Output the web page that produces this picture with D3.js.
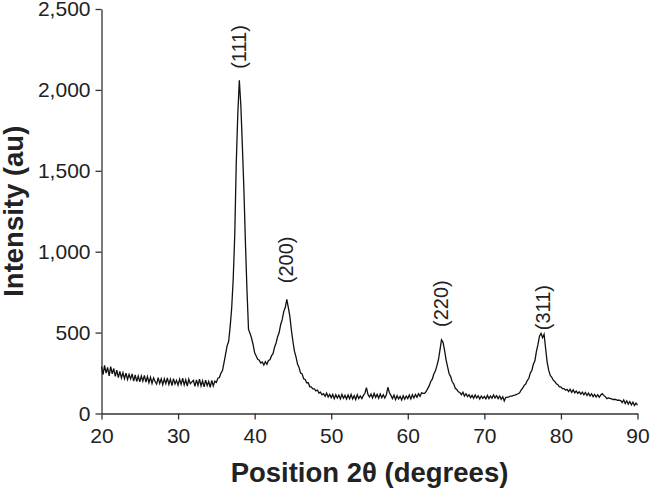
<!DOCTYPE html>
<html>
<head>
<meta charset="utf-8">
<script src="https://cdn.jsdelivr.net/npm/d3@7"></script>
<style>
    body { margin: 0; background: #fff; }
    #chart { width: 650px; height: 488px; }
    .tick text { font-family: Arial, "Liberation Sans", sans-serif; font-size: 21px; fill: #222; }
    .axis-title { font-family: Arial, "Liberation Sans", sans-serif; font-size: 27.5px; font-weight: bold; fill: #222; }
    .peak-label { font-family: Arial, "Liberation Sans", sans-serif; font-size: 20px; fill: #222; }
</style>
</head>
<body>
<div id="chart"></div>
<script>

// scan range of the diffractometer, 0.2 degree steps
const scanStart = 20;
const scanStep = 0.2;

// intensities (au), one row per degree (x.0, x.2, x.4, x.6, x.8)
const intensity = [
    290, 240, 298, 250, 285,   // 20
    232, 290, 245, 278, 230,   // 21
    268, 222, 260, 220, 252,   // 22
    215, 250, 210, 242, 214,   // 23
    245, 200, 238, 198, 232,   // 24
    195, 232, 200, 236, 194,   // 25
    228, 190, 224, 186, 220,   // 26
    198, 182, 222, 186, 215,   // 27
    178, 214, 184, 220, 180,   // 28
    212, 172, 216, 182, 205,   // 29
    175, 212, 180, 218, 176,   // 30
    208, 170, 212, 184, 195,   // 31
    205, 168, 208, 174, 212,   // 32
    170, 202, 165, 206, 172,   // 33
    198, 162, 205, 170, 200,   // 34
    192, 218, 222, 250, 265,   // 35
    315, 365, 418, 445, 535,   // 36
    650, 830, 1100, 1550, 1850, // 37
    2060, 1900, 1650, 1380, 1050, // 38
    760, 520, 495, 465, 425,   // 39
    375, 355, 335, 330, 312,   // 40
    318, 300, 320, 304, 328,   // 41
    332, 356, 370, 410, 436,   // 42
    475, 500, 550, 580, 630,   // 43
    655, 705, 655, 600, 515,   // 44
    445, 385, 350, 305, 285,   // 45
    250, 245, 215, 210, 190,   // 46
    190, 165, 165, 152, 152,   // 47
    140, 145, 126, 132, 116,   // 48
    122, 106, 126, 102, 118,   // 49
    98, 118, 92, 116, 96,      // 50
    114, 90, 118, 94, 112,     // 51
    90, 114, 92, 118, 90,      // 52
    110, 86, 116, 92, 108,     // 53
    92, 112, 125, 160, 118,    // 54
    102, 120, 96, 124, 100,    // 55
    118, 94, 120, 98, 116,     // 56
    96, 116, 162, 128, 112,    // 57
    92, 114, 86, 110, 90,      // 58
    106, 84, 110, 88, 108,     // 59
    92, 114, 90, 116, 96,      // 60
    118, 100, 122, 106, 128,   // 61
    124, 124, 136, 154, 172,   // 62
    198, 212, 244, 262, 294,   // 63
    332, 392, 455, 440, 392,   // 64
    332, 288, 246, 228, 196,   // 65
    184, 156, 148, 134, 130,   // 66
    116, 132, 108, 122, 104,   // 67
    116, 98, 112, 94, 114,     // 68
    96, 110, 90, 108, 94,      // 69
    106, 90, 112, 92, 108,     // 70
    94, 114, 96, 110, 92,      // 71
    108, 88, 104, 78, 100,     // 72
    100, 102, 108, 108, 112,   // 73
    114, 118, 122, 128, 144,   // 74
    156, 174, 182, 204, 216,   // 75
    250, 266, 304, 326, 384,   // 76
    425, 478, 495, 468, 490,   // 77
    402, 318, 268, 236, 224,   // 78
    206, 198, 184, 178, 164,   // 79
    164, 154, 154, 144, 149,   // 80
    136, 150, 131, 146, 128,   // 81
    139, 124, 134, 120, 132,   // 82
    116, 130, 111, 126, 108,   // 83
    122, 104, 118, 102, 116,   // 84
    100, 114, 122, 112, 104,   // 85
    92, 96, 94, 90, 86,        // 86
    88, 86, 82, 82, 80,        // 87
    68, 84, 62, 78, 58,        // 88
    74, 54, 70, 50, 64,        // 89
    52                         // 90
];

// reflections
const peakLabels = ['(111)', '(200)', '(220)', '(311)'];
const peakPositions = [38.0, 44.1, 64.3, 77.6];
const peakLabelBase = [2130, 805, 535, 515];

const xTicks = [20, 30, 40, 50, 60, 70, 80, 90];
const yTicks = [0, 500, 1000, 1500, 2000, 2500];


class XrdChart {

    constructor(parentElement) {
        this.parentElement = parentElement;
        this.data = intensity.map((v, i) => ({angle: scanStart + i * scanStep, value: v}));
        this.initVis();
    }

    initVis() {
        let vis = this;

        vis.margin = {top: 9, right: 12.5, bottom: 74.5, left: 101.5};
        vis.width = 650 - vis.margin.left - vis.margin.right;
        vis.height = 488 - vis.margin.top - vis.margin.bottom;

        vis.svg = d3.select('#' + vis.parentElement).append('svg')
            .attr('width', 650)
            .attr('height', 488)
            .append('g')
            .attr('transform', `translate(${vis.margin.left}, ${vis.margin.top})`);

        vis.x = d3.scaleLinear().domain([20, 90]).range([0, vis.width]);
        vis.y = d3.scaleLinear().domain([0, 2500]).range([vis.height, 0]);

        // axes
        let xAxis = vis.svg.append('g')
            .attr('transform', `translate(0, ${vis.height})`)
            .call(d3.axisBottom(vis.x).tickValues(xTicks).tickSize(6).tickSizeOuter(0).tickPadding(9));

        let yAxis = vis.svg.append('g')
            .call(d3.axisLeft(vis.y).tickValues(yTicks).tickFormat(d3.format(',')).tickSize(6).tickSizeOuter(0).tickPadding(5));

        [xAxis, yAxis].forEach(a => {
            a.select('.domain').attr('stroke', '#333').attr('stroke-width', 1.3);
            a.selectAll('.tick line').attr('stroke', '#333').attr('stroke-width', 1.3);
        });

        // pattern
        let line = d3.line()
            .x(d => vis.x(d.angle))
            .y(d => vis.y(d.value));

        vis.svg.append('path')
            .datum(vis.data)
            .attr('d', line)
            .attr('fill', 'none')
            .attr('stroke', '#111')
            .attr('stroke-width', 1.3)
            .attr('stroke-linejoin', 'miter');

        // peak labels
        vis.svg.selectAll('.peak-label')
            .data(peakLabels)
            .enter()
            .append('text')
            .attr('class', 'peak-label')
            .attr('transform', (d, i) => `translate(${vis.x(peakPositions[i])}, ${vis.y(peakLabelBase[i])}) rotate(-90)`)
            .attr('dy', '0.35em')
            .text(d => d);

        // titles
        vis.svg.append('text')
            .attr('class', 'axis-title')
            .attr('x', vis.width / 2)
            .attr('y', vis.height + 68)
            .attr('text-anchor', 'middle')
            .text('Position 2θ (degrees)');

        vis.svg.append('text')
            .attr('class', 'axis-title')
            .attr('transform', `translate(${23 - vis.margin.left}, ${vis.height / 2}) rotate(-90)`)
            .attr('text-anchor', 'middle')
            .text('Intensity (au)');
    }
}

new XrdChart('chart');
</script>
</body>
</html>
